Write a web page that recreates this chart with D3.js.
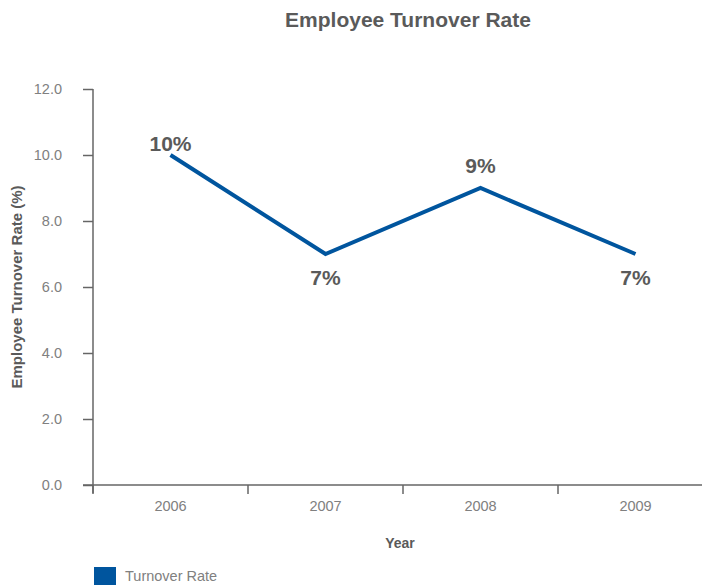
<!DOCTYPE html>
<html>
<head>
<meta charset="utf-8">
<script src="https://cdn.jsdelivr.net/npm/d3@7"></script>
<style>
  html, body { margin: 0; padding: 0; background: #fff; }
  svg { display: block; font-family: "Liberation Sans", Arial, Helvetica, sans-serif; }
</style>
</head>
<body>
<svg id="chart" width="702" height="585"></svg>
<script>
// Employee turnover by year
const years = ["2006", "2007", "2008", "2009"];
const turnoverRate = [10, 7, 9, 7];
const rateLabels = ["10%", "7%", "9%", "7%"];
const labelSide = ["above", "below", "above", "below"];
const yTicks = [0, 2, 4, 6, 8, 10, 12];

(function () {
const svg = d3.select("#chart");
const plotLeft = 93, plotRight = 713, plotTop = 89, plotBottom = 485;

const x = d3.scaleBand().domain(years).range([plotLeft, plotRight]);
const y = d3.scaleLinear().domain([0, 12]).range([plotBottom, plotTop]);

const axisColor = "#666";
const textColor = "#5a5a5a";
const tickColor = "#808080";

// Title
svg.append("text")
  .attr("x", 408).attr("y", 27)
  .attr("text-anchor", "middle")
  .attr("font-size", 21).attr("font-weight", "bold")
  .attr("fill", textColor)
  .text("Employee Turnover Rate");

// Y axis
const yAxis = svg.append("g").attr("transform", `translate(${plotLeft},0)`)
  .call(d3.axisLeft(y).tickValues(yTicks).tickFormat(d3.format(".1f")).tickSize(10).tickPadding(21));
yAxis.select(".domain").attr("stroke", axisColor).attr("stroke-width", 1.5)
  .attr("d", `M0,${plotTop}V${plotBottom + 8}`);
yAxis.selectAll(".tick line").attr("stroke", axisColor).attr("stroke-width", 1.5);
yAxis.selectAll(".tick text").attr("fill", tickColor).attr("font-size", 14.5)
  .attr("font-family", "'Liberation Sans', Arial, sans-serif");

// X axis
const xAxis = svg.append("g").attr("transform", `translate(0,${plotBottom})`)
  .call(d3.axisBottom(x).tickSize(0).tickPadding(0));
xAxis.select(".domain").attr("stroke", axisColor).attr("stroke-width", 1.5)
  .attr("d", `M${plotLeft - 10},0H702`);
xAxis.selectAll(".tick text").attr("fill", tickColor).attr("font-size", 14.5)
  .attr("font-family", "'Liberation Sans', Arial, sans-serif")
  .attr("dy", null).attr("y", 26);
// Band boundary ticks
xAxis.selectAll("line.band-tick")
  .data(years)
  .join("line")
  .attr("class", "band-tick")
  .attr("x1", d => x(d)).attr("x2", d => x(d))
  .attr("y1", 0).attr("y2", 9)
  .attr("stroke", axisColor).attr("stroke-width", 1.5);

// Axis titles
svg.append("text")
  .attr("x", 400).attr("y", 548)
  .attr("text-anchor", "middle")
  .attr("font-size", 14).attr("font-weight", "bold")
  .attr("fill", textColor)
  .text("Year");

svg.append("text")
  .attr("transform", `translate(22,${(plotTop + plotBottom) / 2}) rotate(-90)`)
  .attr("text-anchor", "middle")
  .attr("font-size", 15).attr("font-weight", "bold")
  .attr("fill", textColor)
  .text("Employee Turnover Rate (%)");

// Line
const data = years.map((yr, i) => ({ year: yr, value: turnoverRate[i], label: rateLabels[i], side: labelSide[i] }));
const cx = d => x(d.year) + x.bandwidth() / 2;

svg.append("path")
  .datum(data)
  .attr("fill", "none")
  .attr("stroke", "#00559e")
  .attr("stroke-width", 4)
  .attr("stroke-linejoin", "miter")
  .attr("d", d3.line().x(cx).y(d => y(d.value)));

// Value labels: above-labels are kept clear of the top of the plot area
svg.selectAll("text.value")
  .data(data)
  .join("text")
  .attr("class", "value")
  .attr("x", cx)
  .attr("y", d => d.side === "above"
    ? Math.max(y(d.value) - 15, plotTop + 62)
    : y(d.value) + 31)
  .attr("text-anchor", "middle")
  .attr("font-size", 21).attr("font-weight", "bold")
  .attr("fill", textColor)
  .text(d => d.label);

// Legend
svg.append("rect")
  .attr("x", 94).attr("y", 567).attr("width", 22).attr("height", 18)
  .attr("fill", "#00559e");
svg.append("text")
  .attr("x", 125).attr("y", 581)
  .attr("font-size", 14.5)
  .attr("fill", tickColor)
  .text("Turnover Rate");
})();
</script>
</body>
</html>
